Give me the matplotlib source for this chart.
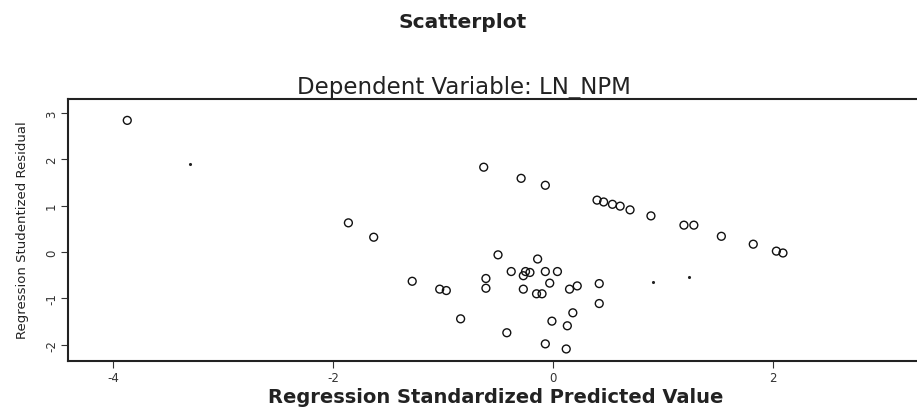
import matplotlib
matplotlib.use("Agg")
import matplotlib.pyplot as plt

# Open-circle cases: standardized predicted value vs studentized residual
pred = [-3.87, -1.86, -1.63, -1.28, -1.03, -0.97, -0.84,
        -0.63, -0.29, -0.07, 0.40, 0.46, 0.54, 0.61, 0.70, 0.89,
        1.19, 1.28, 1.53, 1.82, 2.03, 2.09,
        -0.50, -0.14, -0.61, -0.61, -0.38, -0.25, -0.21, -0.27,
        -0.07, 0.04, -0.03, -0.27, -0.15, -0.10, 0.15, 0.22,
        0.42, 0.42, 0.18, -0.01, 0.13, -0.42, -0.07, 0.12]
resid = [2.84, 0.63, 0.32, -0.63, -0.80, -0.83, -1.44,
         1.83, 1.59, 1.44, 1.12, 1.08, 1.03, 0.99, 0.91, 0.78,
         0.58, 0.58, 0.34, 0.17, 0.02, -0.02,
         -0.06, -0.15, -0.57, -0.78, -0.42, -0.42, -0.44, -0.51,
         -0.42, -0.42, -0.67, -0.80, -0.90, -0.90, -0.80, -0.73,
         -0.68, -1.11, -1.31, -1.49, -1.59, -1.74, -1.98, -2.09]

# Tiny dot marks
dot_pred = [-3.30, 1.24, 0.91]
dot_resid = [1.90, -0.53, -0.64]

xticks = [-4, -2, 0, 2]
yticks = [-2, -1, 0, 1, 2, 3]

fig = plt.figure(figsize=(9.17, 4.10), dpi=100)
ax = fig.add_axes([0.074, 0.117, 0.925, 0.639])

ax.scatter(pred, resid, s=32, facecolors="none", edgecolors="#111111",
           linewidths=1.0, marker="o")
ax.scatter(dot_pred, dot_resid, s=5, color="#222222", marker="o", linewidths=0)

ax.set_xlim(-4.41, 3.30)
ax.set_ylim(-2.35, 3.30)
ax.set_xticks(xticks)
ax.set_yticks(yticks)
ax.set_xticklabels([str(t) for t in xticks], fontsize=8.5, color="#333333")
ax.set_yticklabels([str(t) for t in yticks], fontsize=8.5, color="#333333",
                   rotation=90, va="center")
ax.tick_params(direction="out", length=5, width=0.8, colors="#333333", pad=2)

for side in ["left", "bottom", "top"]:
    ax.spines[side].set_linewidth(1.5)
    ax.spines[side].set_color("#222222")
ax.spines["right"].set_visible(False)

fig.text(0.541, 0.030, "Regression Standardized Predicted Value",
         ha="center", va="center", fontsize=14, fontweight="bold",
         color="#222222", fontfamily="DejaVu Sans")
fig.text(0.025, 0.439, "Regression Studentized Residual", ha="center",
         va="center", rotation=90, fontsize=9.5, color="#222222",
         fontfamily="Liberation Sans Narrow")

fig.text(0.505, 0.945, "Scatterplot", ha="center", va="center",
         fontsize=14.5, fontweight="bold", color="#222222",
         fontfamily="DejaVu Sans")
fig.text(0.506, 0.787, "Dependent Variable: LN_NPM", ha="center", va="center",
         fontsize=16.5, color="#222222", fontfamily="DejaVu Sans")

fig.savefig("out.png", dpi=100, facecolor="white")
